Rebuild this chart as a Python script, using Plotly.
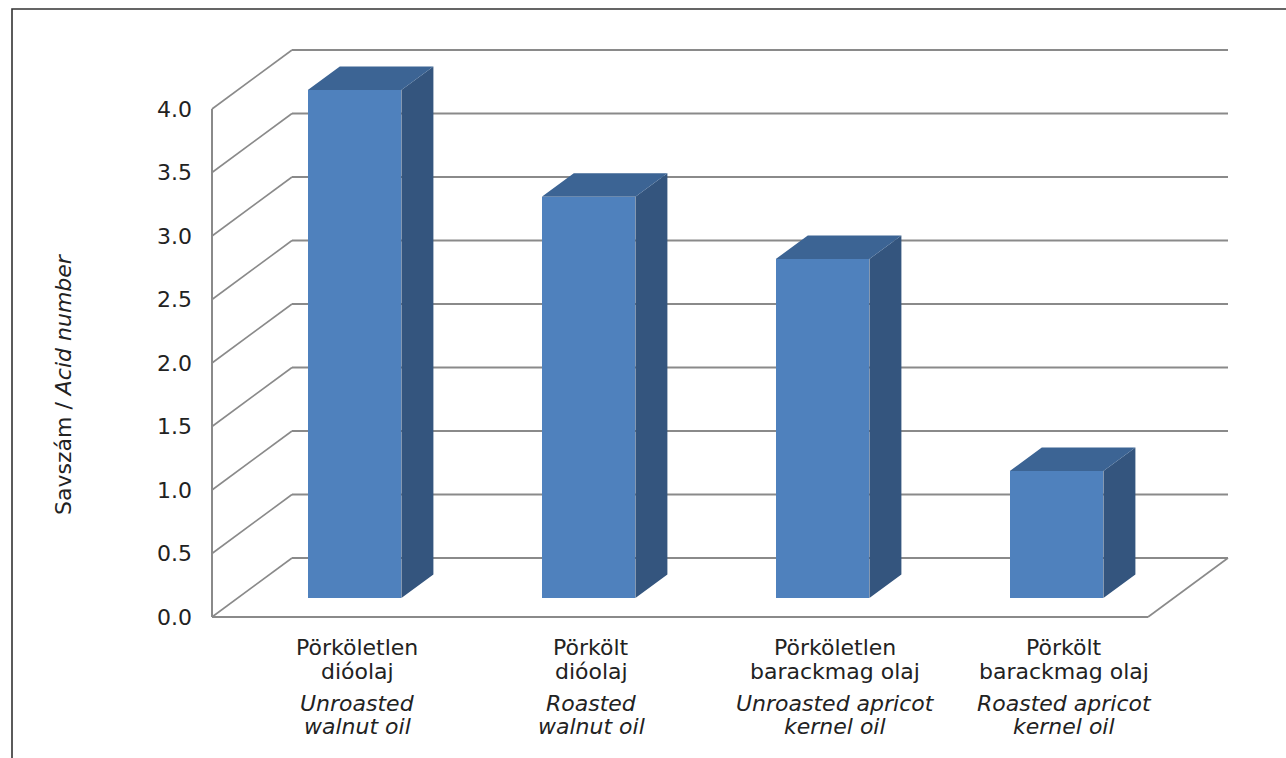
import plotly.graph_objects as go

# ---- data -------------------------------------------------------------
labels_hu = [
    ["Pörköletlen", "dióolaj"],
    ["Pörkölt", "dióolaj"],
    ["Pörköletlen", "barackmag olaj"],
    ["Pörkölt", "barackmag olaj"],
]
labels_en = [
    ["Unroasted", "walnut oil"],
    ["Roasted", "walnut oil"],
    ["Unroasted apricot", "kernel oil"],
    ["Roasted apricot", "kernel oil"],
]
acid_number = [4.0, 3.16, 2.67, 1.0]
y_ticks = [0.0, 0.5, 1.0, 1.5, 2.0, 2.5, 3.0, 3.5, 4.0]

# ---- geometry (pixels) ------------------------------------------------
W, H = 1286, 758
X0_PX, CAT_PX = 212, 234          # pixel of x=0, pixels per category
Y0_PX, VAL_PX = 617, 127          # pixel of value 0, pixels per value unit
PLOT_L, PLOT_R, PLOT_T, PLOT_B = 200, 1250, 30, 640

# oblique depth of the chart box, in axis units
DX = 80 / CAT_PX
DY = 59 / VAL_PX
# bar placement inside the depth and bar thickness
T_FRONT, T_DEPTH = 0.32, 0.40
BAR_W = 0.40

n = len(acid_number)
y_top = max(y_ticks)

FONT = "DejaVu Sans"
TXT = "#222222"
GRID = "#8a8a8a"
FRONT_C, SIDE_C, TOP_C = "#4F81BD", "#34557E", "#3C6494"

x_range = [(PLOT_L - X0_PX) / CAT_PX, (PLOT_R - X0_PX) / CAT_PX]
y_range = [(Y0_PX - PLOT_B) / VAL_PX, (Y0_PX - PLOT_T) / VAL_PX]

fig = go.Figure()

shapes = []
# back wall grid lines, left wall diagonals
for v in y_ticks:
    shapes.append(dict(type="line", xref="x", yref="y", layer="below",
                       x0=DX, y0=v + DY, x1=n + DX, y1=v + DY,
                       line=dict(color=GRID, width=2)))
    shapes.append(dict(type="line", xref="x", yref="y", layer="below",
                       x0=0, y0=v, x1=DX, y1=v + DY,
                       line=dict(color=GRID, width=1.6)))
# left wall front edge
shapes.append(dict(type="line", xref="x", yref="y", layer="below",
                   x0=0, y0=0, x1=0, y1=y_top,
                   line=dict(color=GRID, width=2)))
# floor front edge and right edge
shapes.append(dict(type="line", xref="x", yref="y", layer="below",
                   x0=0, y0=0, x1=n, y1=0,
                   line=dict(color=GRID, width=2)))
shapes.append(dict(type="line", xref="x", yref="y", layer="below",
                   x0=n, y0=0, x1=n + DX, y1=DY,
                   line=dict(color=GRID, width=1.6)))

# outer frame
def px_to_paper_x(px):
    return (px - PLOT_L) / (PLOT_R - PLOT_L)

def px_to_paper_y(py):
    return (PLOT_B - py) / (PLOT_B - PLOT_T)

shapes.append(dict(type="rect", xref="paper", yref="paper", layer="above",
                   x0=px_to_paper_x(12), y0=px_to_paper_y(9),
                   x1=px_to_paper_x(W + 40), y1=px_to_paper_y(H + 40),
                   line=dict(color="#333333", width=1.6)))

# ---- bars -------------------------------------------------------------
fx = T_FRONT * DX
fy = T_FRONT * DY
ddx = T_DEPTH * DX
ddy = T_DEPTH * DY
centers = [i + 0.5 + fx for i in range(n)]

fig.add_trace(go.Bar(
    x=centers, y=acid_number, base=[fy] * n, width=BAR_W,
    marker=dict(color=FRONT_C, line=dict(width=0)),
    hoverinfo="skip", showlegend=False,
))

side_x, side_y, top_x, top_y = [], [], [], []
for c, v in zip(centers, acid_number):
    xl, xr = c - BAR_W / 2, c + BAR_W / 2
    yb, yt = fy, fy + v
    side_x += [xr, xr + ddx, xr + ddx, xr, xr, None]
    side_y += [yb, yb + ddy, yt + ddy, yt, yb, None]
    top_x += [xl, xr, xr + ddx, xl + ddx, xl, None]
    top_y += [yt, yt, yt + ddy, yt + ddy, yt, None]

fig.add_trace(go.Scatter(x=side_x, y=side_y, mode="lines", fill="toself",
                         fillcolor=SIDE_C, line=dict(width=0, color=SIDE_C),
                         hoverinfo="skip", showlegend=False))
fig.add_trace(go.Scatter(x=top_x, y=top_y, mode="lines", fill="toself",
                         fillcolor=TOP_C, line=dict(width=0, color=TOP_C),
                         hoverinfo="skip", showlegend=False))

# ---- category labels --------------------------------------------------
annotations = []
line_shift = [-30, -54, -86, -109]
label_nudge = [28, 28, 38, 33]
for i in range(n):
    lines = [(t, False) for t in labels_hu[i]] + [(t, True) for t in labels_en[i]]
    for (t, ital), ys in zip(lines, line_shift):
        annotations.append(dict(
            x=i + 0.5, y=0, xref="x", yref="y",
            xshift=label_nudge[i], yshift=ys,
            text=f"<i>{t}</i>" if ital else t, showarrow=False,
            xanchor="center", yanchor="middle",
            font=dict(family=FONT, size=22, color=TXT),
        ))

# y-axis title
annotations.append(dict(
    x=px_to_paper_x(63), y=px_to_paper_y(384), xref="paper", yref="paper",
    text="Savszám / <i>Acid number</i>", textangle=-90, showarrow=False,
    xanchor="center", yanchor="middle",
    font=dict(family=FONT, size=22, color=TXT),
))

fig.update_layout(
    width=W, height=H, autosize=False,
    margin=dict(l=PLOT_L, r=W - PLOT_R, t=PLOT_T, b=H - PLOT_B, pad=0),
    paper_bgcolor="white", plot_bgcolor="white",
    shapes=shapes, annotations=annotations,
    barmode="overlay", bargap=0,
    xaxis=dict(range=x_range, visible=False, fixedrange=True),
    yaxis=dict(range=y_range, tickvals=y_ticks,
               ticktext=[f"{v:.1f}" for v in y_ticks],
               showgrid=False, zeroline=False, showline=False,
               ticks="", ticklabelstandoff=7, fixedrange=True,
               tickfont=dict(family=FONT, size=22, color=TXT)),
    showlegend=False,
)

fig.write_html("out.html")
